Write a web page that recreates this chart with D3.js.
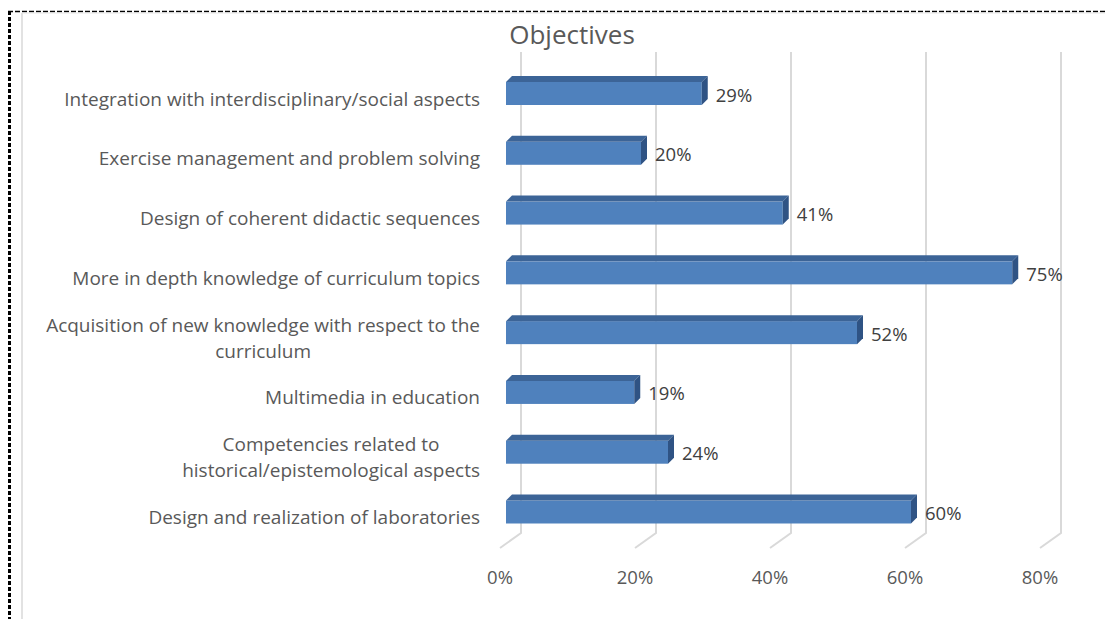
<!DOCTYPE html>
<html>
<head>
<meta charset="utf-8">
<script src="https://cdn.jsdelivr.net/npm/d3@7"></script>
<style>
  body { margin: 0; background: #fff; }
  svg { display: block; }
</style>
</head>
<body>
<div id="chart"></div>
<script>
// chart data
var categories = [
  ["Integration with interdisciplinary/social aspects"],
  ["Exercise management and problem solving"],
  ["Design of coherent didactic sequences"],
  ["More in depth knowledge of curriculum topics"],
  ["Acquisition of new knowledge with respect to the", "curriculum"],
  ["Multimedia in education"],
  ["Competencies related to", "historical/epistemological aspects"],
  ["Design and realization of laboratories"]
];
var values = [29, 20, 41, 75, 52, 19, 24, 60];
var ticks = [0, 20, 40, 60, 80];
var title = "Objectives";

var width = 1105, height = 619;
var font = "'Open Sans', sans-serif";

var svg = d3.select("#chart").append("svg")
    .attr("width", width)
    .attr("height", height);

// frame
svg.append("line")
    .attr("x1", 8).attr("x2", width).attr("y1", 11.5).attr("y2", 11.5)
    .attr("stroke", "#000").attr("stroke-width", 1.5)
    .attr("stroke-dasharray", "5,2");
svg.append("line")
    .attr("x1", 9.5).attr("x2", 9.5).attr("y1", 11).attr("y2", height)
    .attr("stroke", "#000").attr("stroke-width", 3)
    .attr("stroke-dasharray", "4,2");
svg.append("line")
    .attr("x1", 22).attr("x2", 22).attr("y1", 13).attr("y2", height)
    .attr("stroke", "#d9d9d9").attr("stroke-width", 1.5);
svg.append("line")
    .attr("x1", 22).attr("x2", width).attr("y1", 13).attr("y2", 13)
    .attr("stroke", "#e6e6e6").attr("stroke-width", 1);

// 3d layout
var backX = 521, frontX = 500, barX = 506,
    depthX = 21, depthY = 15,
    wallTop = 52, wallBottom = 533,
    barH = 23, barDx = 6, barDy = 6;

var x = d3.scaleLinear().domain([0, 80]).range([0, 540]);
var y = d3.scalePoint()
    .domain(d3.range(values.length))
    .range([93.5, 512]);

var g = svg.append("g");

// back wall grid + floor
var grid = g.append("g").attr("class", "grid");
grid.selectAll("path").data(ticks).enter().append("path")
    .attr("d", function(t) {
      var bx = backX + x(t);
      return "M" + bx + "," + wallTop + "V" + wallBottom +
             "L" + (bx - depthX) + "," + (wallBottom + depthY);
    })
    .attr("fill", "none")
    .attr("stroke", "#d9d9d9")
    .attr("stroke-width", 2);

// x tick labels
g.append("g").selectAll("text").data(ticks).enter().append("text")
    .attr("x", function(t) { return frontX + x(t); })
    .attr("y", 584)
    .attr("text-anchor", "middle")
    .attr("font-family", font)
    .attr("font-size", 18.5)
    .attr("fill", "#595959")
    .text(function(t) { return t + "%"; });

// bars
var bars = g.append("g").selectAll("g").data(values).enter().append("g");

bars.append("rect")
    .attr("x", barX)
    .attr("y", function(d, i) { return y(i) - barH / 2; })
    .attr("width", function(d) { return x(d); })
    .attr("height", barH)
    .attr("fill", "#4f81bd");

bars.append("path")
    .attr("d", function(d, i) {
      var top = y(i) - barH / 2, r = barX + x(d);
      return "M" + barX + "," + top + "L" + (barX + barDx) + "," + (top - barDy) +
             "L" + (r + barDx) + "," + (top - barDy) + "L" + r + "," + top + "Z";
    })
    .attr("fill", "#3c6497");

bars.append("path")
    .attr("d", function(d, i) {
      var top = y(i) - barH / 2, bot = top + barH, r = barX + x(d);
      return "M" + r + "," + top + "L" + (r + barDx) + "," + (top - barDy) +
             "L" + (r + barDx) + "," + (bot - barDy) + "L" + r + "," + bot + "Z";
    })
    .attr("fill", "#2f5384");

// value labels
bars.append("text")
    .attr("x", function(d) { return barX + x(d) + barDx + 8; })
    .attr("y", function(d, i) { return y(i) + 8; })
    .attr("font-family", font)
    .attr("font-size", 18.5)
    .attr("fill", "#404040")
    .text(function(d) { return d + "%"; });

// category labels: block right aligned, lines centred in block
var labelRight = 480;
categories.forEach(function(lines, i) {
  var t = g.append("text")
      .attr("font-family", font)
      .attr("font-size", 19)
      .attr("fill", "#595959");
  var cy = y(i) + 5;
  var spans = lines.map(function(l, j) {
    return t.append("tspan")
        .attr("y", cy + 7 - (lines.length - 1) * 13 + j * 26)
        .text(l);
  });
  var w = d3.max(spans, function(s) { return s.node().getComputedTextLength(); });
  spans.forEach(function(s) {
    s.attr("x", labelRight - w / 2).attr("text-anchor", "middle");
  });
});

// title
svg.append("text")
    .attr("x", 572)
    .attr("y", 44)
    .attr("text-anchor", "middle")
    .attr("font-family", font)
    .attr("font-size", 26)
    .attr("fill", "#595959")
    .text(title);
</script>
</body>
</html>
